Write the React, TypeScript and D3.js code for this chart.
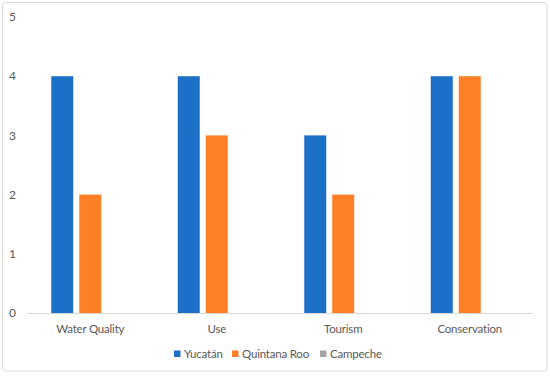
import { useEffect, useRef } from 'react'
import * as d3 from 'd3'

const CATEGORIES = ['Water Quality', 'Use', 'Tourism', 'Conservation']
const SERIES = ['Yucatán', 'Quintana Roo', 'Campeche']
const YUCATAN = [4, 4, 3, 4]
const QUINTANA_ROO = [2, 3, 2, 4]
const CAMPECHE = [0, 0, 0, 0]
const Y_TICKS = [0, 1, 2, 3, 4, 5]
const COLORS = ['#1c70c8', '#ff7f27', '#a5a5a5']

const W = 550, H = 376
const FONT = 'Lato, "Liberation Sans", sans-serif'
const TXT = '#595959'

export default function App() {
  const ref = useRef<SVGSVGElement>(null)
  useEffect(() => {
    if (!ref.current) return
    const svg = d3.select(ref.current)
    svg.selectAll('*').remove()
    const values = [YUCATAN, QUINTANA_ROO, CAMPECHE]

    svg.append('rect').attr('x', 2.5).attr('y', 2.5).attr('width', 544.5).attr('height', 368.5)
      .attr('rx', 3).attr('fill', '#fff').attr('stroke', '#d9d9d9')

    const x0 = d3.scaleBand().domain(CATEGORIES).range([27, 533]).padding(0)
    const x1 = d3.scaleBand().domain(SERIES).range([0, x0.bandwidth()]).paddingInner(0.214).paddingOuter(0.866)
    const y = d3.scaleLinear().domain([0, 5]).range([313, 17])

    const g = svg.append('g')
    CATEGORIES.forEach((c, i) => {
      SERIES.forEach((s, j) => {
        const v = values[j][i]
        if (v <= 0) return
        g.append('rect').attr('x', x0(c)! + x1(s)!).attr('y', y(v))
          .attr('width', x1.bandwidth()).attr('height', y(0) - y(v)).attr('fill', COLORS[j])
      })
    })

    svg.append('line').attr('x1', 27).attr('x2', 533).attr('y1', y(0) + 0.5).attr('y2', y(0) + 0.5)
      .attr('stroke', '#d9d9d9')

    svg.append('g').selectAll('text').data(Y_TICKS).join('text')
      .attr('x', 16).attr('y', d => y(d)).attr('dy', '0.35em').attr('text-anchor', 'end')
      .style('font-family', FONT).style('font-size', '12px').style('fill', TXT).text(d => d)

    svg.append('g').selectAll('text').data(CATEGORIES).join('text')
      .attr('x', d => x0(d)! + x0.bandwidth() / 2).attr('y', 332.5).attr('text-anchor', 'middle')
      .style('font-family', FONT).style('font-size', '11.5px').style('letter-spacing', '-0.2px')
      .style('fill', TXT).text(d => d)

    const legendX = [174, 232, 320]
    const lg = svg.append('g')
    SERIES.forEach((s, j) => {
      lg.append('rect').attr('x', legendX[j]).attr('y', 350.5).attr('width', 6.5).attr('height', 6.5).attr('fill', COLORS[j])
      lg.append('text').attr('x', legendX[j] + 10).attr('y', 357.5)
        .style('font-family', FONT).style('font-size', '11.5px').style('letter-spacing', '-0.2px')
        .style('fill', TXT).text(s)
    })
  }, [])
  return (
    <svg ref={ref} width={W} height={H} style={{ position: 'absolute', left: 0, top: 0 }} />
  )
}
